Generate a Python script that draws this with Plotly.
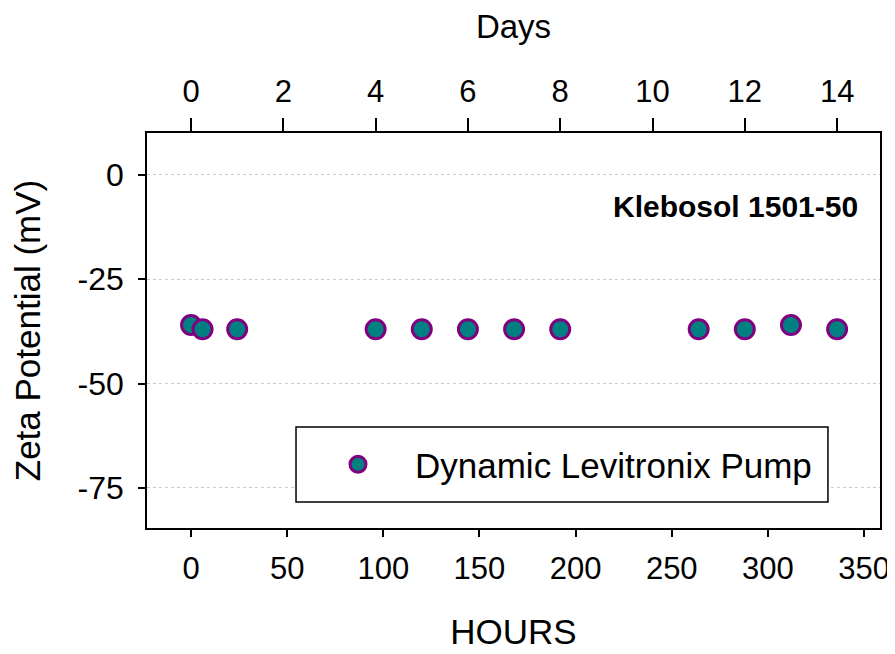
import plotly.graph_objects as go

hours = [0, 6, 24, 96, 120, 144, 168, 192, 264, 288, 312, 336]
zeta = [-36, -37, -37, -37, -37, -37, -37, -37, -37, -37, -36, -37]
series_name = "Dynamic Levitronix Pump"
x_ticks = [0, 50, 100, 150, 200, 250, 300, 350]
y_ticks = [0, -25, -50, -75]
y_ticktext = ["0", "-25", "-50", "-75"]
day_ticks = [0, 2, 4, 6, 8, 10, 12, 14]
days = [h / 24 for h in hours]

FONT = "Arial, Liberation Sans, sans-serif"
x_range = [-22.9, 358.3]

fig = go.Figure()
fig.add_trace(go.Scatter(
    x=hours, y=zeta, mode="markers", name=series_name,
    marker=dict(size=19, color="#008080", line=dict(color="#800080", width=3)),
))
fig.add_trace(go.Scatter(
    x=days, y=zeta, mode="markers", xaxis="x2", showlegend=False,
    marker=dict(opacity=0), hoverinfo="skip",
))

fig.update_layout(
    width=895, height=654,
    margin=dict(l=139, r=23, t=125, b=134),
    paper_bgcolor="white", plot_bgcolor="white",
    font=dict(family=FONT, color="black"),
    xaxis=dict(
        range=x_range, tickvals=x_ticks, ticks="outside", ticklen=7, tickwidth=1.5,
        tickcolor="black", showline=True, linecolor="black", linewidth=1.5,
        mirror=True, showgrid=False, zeroline=False, automargin=False,
        tickfont=dict(size=31), ticklabelstandoff=5,
        title=dict(text="HOURS", font=dict(size=35), standoff=35),
    ),
    xaxis2=dict(
        range=[x_range[0] / 24, x_range[1] / 24], overlaying="x", side="top", anchor="y",
        tickvals=day_ticks, ticks="outside", ticklen=13, tickwidth=1.5, tickcolor="black",
        showline=True, linecolor="black", linewidth=1.5, showgrid=False, zeroline=False,
        automargin=False, tickfont=dict(size=31), ticklabelstandoff=4,
        title=dict(text="Days", font=dict(size=33), standoff=28),
    ),
    yaxis=dict(
        range=[-84.6, 10], tickvals=y_ticks, ticktext=y_ticktext, ticks="outside", ticklen=7,
        tickwidth=1.5, tickcolor="black", showline=True, linecolor="black", linewidth=1.5,
        mirror=True, showgrid=True, gridcolor="#cccccc", griddash="dot", gridwidth=1,
        zeroline=False, automargin=False, tickfont=dict(size=32), ticklabelstandoff=8,
        title=dict(text="Zeta Potential (mV)", font=dict(size=35), standoff=31),
    ),
    legend=dict(
        x=0.2101, y=0.1608, xanchor="left", yanchor="middle",
        bgcolor="rgba(0,0,0,0)", borderwidth=0, itemwidth=104,
        font=dict(size=35, family=FONT),
    ),
    shapes=[dict(
        type="rect", xref="paper", yref="paper", x0=0.2033, x1=0.929, y0=0.0658, y1=0.2557,
        line=dict(color="black", width=1.5), fillcolor="white", layer="above",
    )],
    annotations=[dict(
        text="<b>Klebosol 1501-50</b>", xref="paper", yref="paper", x=0.9727, y=0.8127,
        xanchor="right", yanchor="middle", showarrow=False, font=dict(size=30, family=FONT),
    )],
)

fig.write_html("out.html")
